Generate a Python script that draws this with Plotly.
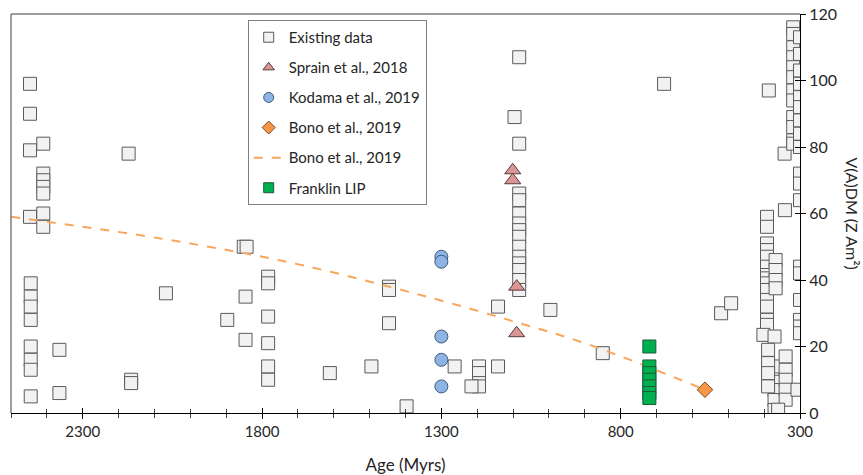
import plotly.graph_objects as go

# ---------------- data ----------------
existing_age = [
    2447, 2447, 2447, 2447,
    2410, 2410, 2410, 2410, 2410, 2410, 2410,
    2172,
    2445, 2445, 2445, 2445, 2445, 2445, 2445, 2445,
    2068,
    1851, 1843,
    1846, 1846,
    1783, 1783, 1783, 1783, 1783, 1783,
    1897,
    2365, 2365,
    2165, 2165,
    1446, 1446, 1446,
    1495, 1611, 1397, 1263,
    1195, 1195, 1195, 1195, 1216,
    1142, 1142,
    1083, 1083, 1083, 1083, 1083, 1083, 1083, 1083, 1083, 1083, 1083, 1083, 1083, 1083,
    1096, 996, 850, 679, 520, 492,
    387, 343, 342,
    319, 319, 319, 319, 319, 319, 319, 319, 319, 319, 319, 319,
    300, 300, 300, 300, 300, 300, 300, 300, 300, 300, 300, 300, 300, 300, 300, 300, 300, 300,
    392, 392, 392, 392, 392, 392, 392, 392, 392, 392, 392, 392, 392, 392,
    368, 368, 368, 368,
    402,
    371, 371, 371, 371, 371, 371,
    340, 340, 340, 340, 340,
    307,
    389, 389, 389, 389,
    361,
]
existing_vadm = [
    99, 90, 79, 59,
    81, 72, 70, 68, 66, 60, 56,
    78,
    39, 35, 32, 28, 20, 16, 13, 5,
    36,
    50, 50,
    35, 22,
    41, 39, 29, 21, 14, 10,
    28,
    19, 6,
    10, 9,
    38, 37, 27,
    14, 12, 2, 14,
    14, 12, 9, 8, 8,
    32, 14,
    107, 81, 66, 64, 60, 57, 55, 53, 50, 47, 45, 43, 40, 37,
    89, 31, 18, 99, 30, 33,
    97, 78, 61,
    116, 114, 110, 107, 104, 101, 97, 94, 89, 86, 82, 81,
    113, 108, 103, 99, 95, 92, 88, 84, 80, 72, 69, 64, 44, 42, 34, 28, 26, 24,
    59, 56, 51, 49, 47, 44, 41.5, 40.5, 39, 37, 34, 32, 28, 26.5,
    46, 43, 40, 37.5,
    23.5,
    23, 14, 9.4, 6.9, 3.9, 0.9,
    17, 13, 10, 7, 4,
    7,
    19, 15, 12, 8,
    1,
]

sprain_age = [1101, 1101, 1090, 1090]
sprain_vadm = [73, 70, 38, 24]

kodama_age = [1300, 1300, 1300, 1300, 1300]
kodama_vadm = [47, 45.5, 23, 16, 8]

bono_age = [565]
bono_vadm = [7]

bono_line_age = [2500, 2084, 1711, 1358, 1097, 892, 565]
bono_line_vadm = [59, 52.5, 45, 35.5, 27.5, 20.7, 7]

franklin_age = [720, 720, 720, 720, 720, 720, 720]
franklin_vadm = [20, 14, 12, 10, 8, 6, 4.5]

x_ticks = [2300, 1800, 1300, 800, 300]
y_ticks = [0, 20, 40, 60, 80, 100, 120]

FONT = "Lato"
TXT = "#262626"

styles = {
    "exist": dict(symbol="square", color="#f2f2f2", line=dict(color="#5a5a5a", width=1)),
    "sprain": dict(symbol="triangle-up", color="#d99694", line=dict(color="#5a3a3a", width=1)),
    "kodama": dict(symbol="circle", color="#8eb4e3", line=dict(color="#3d5a80", width=1)),
    "bono": dict(symbol="diamond", color="#f79646", line=dict(color="#7a4a20", width=1)),
    "franklin": dict(symbol="square", color="#00b050", line=dict(color="#1e5a34", width=1)),
}
DASH = dict(color="#f9a65a", width=2, dash="dash")

fig = go.Figure()

# data traces (no legend)
fig.add_trace(go.Scatter(x=existing_age, y=existing_vadm, mode="markers",
                         showlegend=False, marker=dict(size=13, **styles["exist"])))
fig.add_trace(go.Scatter(x=bono_line_age, y=bono_line_vadm, mode="lines",
                         showlegend=False, line_shape="spline", line=DASH))
fig.add_trace(go.Scatter(x=sprain_age, y=sprain_vadm, mode="markers",
                         showlegend=False, marker=dict(size=14, **styles["sprain"])))
fig.add_trace(go.Scatter(x=kodama_age, y=kodama_vadm, mode="markers",
                         showlegend=False, marker=dict(size=13, **styles["kodama"])))
fig.add_trace(go.Scatter(x=bono_age, y=bono_vadm, mode="markers",
                         showlegend=False, marker=dict(size=12, **styles["bono"])))
fig.add_trace(go.Scatter(x=franklin_age, y=franklin_vadm, mode="markers",
                         showlegend=False, marker=dict(size=13, **styles["franklin"])))

# legend-only entries with small symbols
legend_items = [
    ("Existing data", "exist", "a"),
    ("Sprain et al., 2018", "sprain", "b"),
    ("Kodama et al., 2019", "kodama", "c"),
    ("Bono et al., 2019", "bono", "d"),
]
for name, key, grp in legend_items:
    fig.add_trace(go.Scatter(x=[None], y=[None], mode="markers", name=name,
                             legendgroup=grp, marker=dict(size=10, **styles[key])))
fig.add_trace(go.Scatter(x=[None], y=[None], mode="lines", name="Bono et al., 2019",
                         legendgroup="e", line=DASH))
fig.add_trace(go.Scatter(x=[None], y=[None], mode="markers", name="Franklin LIP",
                         legendgroup="f", marker=dict(size=10, **styles["franklin"])))

# invisible trace so the overlay axes (inside half of crossing ticks) exist
fig.add_trace(go.Scatter(x=[], y=[], xaxis="x2", yaxis="y2", showlegend=False))

fig.update_layout(
    width=863, height=475,
    margin=dict(l=11, r=63, t=14, b=62, autoexpand=False),
    paper_bgcolor="white", plot_bgcolor="white",
    font=dict(family=FONT, color=TXT, size=14),
    showlegend=True,
    legend=dict(
        x=0.300, y=0.985, xanchor="left", yanchor="top",
        bgcolor="white", bordercolor="#7f7f7f", borderwidth=1,
        font=dict(family=FONT, size=15, color=TXT),
        traceorder="grouped", tracegroupgap=7.6,
    ),
    xaxis=dict(
        range=[2500, 300], tickvals=x_ticks, ticks="outside", ticklen=5,
        tickcolor="black", showline=True, linecolor="black", linewidth=1,
        showgrid=False, zeroline=False, automargin=False,
        minor=dict(dtick=100, tick0=300, ticks="outside", ticklen=4,
                   tickcolor="#404040", showgrid=False),
        tickfont=dict(size=15, color=TXT),
        title=dict(text="Age (Myrs)", font=dict(size=17, color=TXT), standoff=20),
    ),
    yaxis=dict(
        range=[0, 120], tickvals=y_ticks, side="right", ticks="outside",
        ticklen=5, tickcolor="black", showline=True, linecolor="black",
        linewidth=1, showgrid=False, zeroline=False, automargin=False,
        tickfont=dict(size=16, color=TXT),
    ),
    xaxis2=dict(
        overlaying="x", range=[2500, 300], tickvals=x_ticks, ticks="inside",
        ticklen=5, tickcolor="black", showticklabels=False, showgrid=False,
        zeroline=False, showline=False, side="bottom", automargin=False,
        minor=dict(dtick=100, tick0=300, ticks="inside", ticklen=4,
                   tickcolor="#404040"),
    ),
    yaxis2=dict(
        overlaying="y", range=[0, 120], tickvals=y_ticks, ticks="inside",
        ticklen=5, tickcolor="black", showticklabels=False, showgrid=False,
        zeroline=False, showline=False, side="right", automargin=False,
    ),
    shapes=[
        dict(type="line", xref="paper", yref="paper", x0=0, x1=1, y0=1, y1=1,
             line=dict(color="#7f7f7f", width=1.5)),
        dict(type="line", xref="paper", yref="paper", x0=0, x1=0, y0=0, y1=1,
             line=dict(color="#7f7f7f", width=1.5)),
    ],
    annotations=[
        dict(text="V(A)DM (Z Am²)", xref="paper", yref="paper",
             x=1.0 + (852 - 800) / 789, y=0.5, xanchor="center", yanchor="middle",
             textangle=90, showarrow=False, font=dict(size=16, color=TXT)),
    ],
)

fig.write_html("out.html")
